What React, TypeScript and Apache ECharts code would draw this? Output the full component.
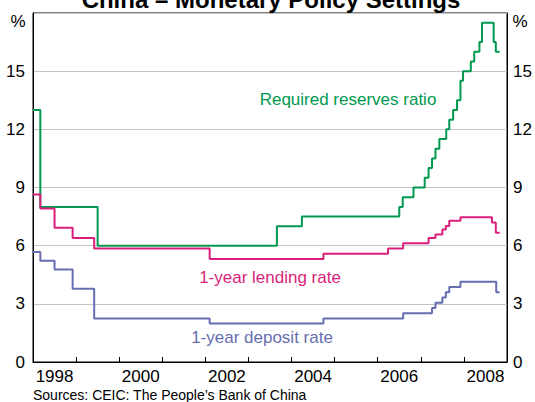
import React, { useEffect, useRef } from "react";
import * as echarts from "echarts";

const yearCats = ["1998", "1999", "2000", "2001", "2002", "2003", "2004", "2005", "2006", "2007", "2008"];

const rrrDates = [1998.0, 1998.17, 1999.5, 2003.66, 2004.24, 2006.5, 2006.58, 2006.83, 2007.09, 2007.18, 2007.26, 2007.34, 2007.43, 2007.59, 2007.66, 2007.75, 2007.84, 2007.92, 2007.98, 2008.16, 2008.24, 2008.36, 2008.42, 2008.69, 2008.74, 2008.83];
const rrrValues = [13, 8, 6, 7, 7.5, 8, 8.5, 9, 9.5, 10, 10.5, 11, 11.5, 12, 12.5, 13, 13.5, 14.5, 15, 15.5, 16, 16.5, 17.5, 16.5, 16, 16];

const lendDates = [1998.0, 1998.17, 1998.5, 1998.92, 1999.42, 2002.1, 2004.74, 2006.24, 2006.59, 2007.18, 2007.34, 2007.5, 2007.58, 2007.66, 2007.92, 2008.65, 2008.74, 2008.83];
const lendValues = [8.64, 7.92, 6.93, 6.39, 5.85, 5.31, 5.58, 5.85, 6.12, 6.39, 6.57, 6.84, 7.02, 7.29, 7.47, 7.2, 6.66, 6.66];

const depDates = [1998.0, 1998.17, 1998.5, 1998.92, 1999.42, 2002.1, 2004.74, 2006.59, 2007.26, 2007.34, 2007.5, 2007.58, 2007.66, 2007.92, 2008.75, 2008.83];
const depValues = [5.67, 5.22, 4.77, 3.78, 2.25, 1.98, 2.25, 2.52, 2.79, 3.06, 3.33, 3.6, 3.87, 4.14, 3.6, 3.6];

const GREEN = "#00994f";
const PINK = "#d91f7b";
const BLUE = "#666eb0";
const FONT = "'Liberation Sans', Arial, sans-serif";

function pairs(d: number[], v: number[]) {
  return d.map((x, i) => [x, v[i]]);
}

export default function App() {
  const ref = useRef<HTMLDivElement>(null);
  useEffect(() => {
    if (!ref.current) return;
    const chart = echarts.init(ref.current, undefined, { renderer: "svg" });
    const lineSeries = (name: string, data: number[][], color: string) => ({
      name,
      type: "line",
      step: "end",
      xAxisIndex: 0,
      yAxisIndex: 0,
      showSymbol: false,
      symbol: "none",
      data,
      lineStyle: { color, width: 2 },
      z: 5,
    });
    chart.setOption({
      animation: false,
      grid: { left: 33, right: 28, top: 13, bottom: 40, show: true, borderColor: "#000", borderWidth: 1, backgroundColor: "transparent" },
      xAxis: [
        {
          type: "value",
          min: 1998,
          max: 2009,
          interval: 1,
          position: "bottom",
          axisLine: { show: true, lineStyle: { color: "#000", width: 1 } },
          axisTick: { show: true, inside: true, length: 5, lineStyle: { color: "#000" } },
          axisLabel: { show: false },
          splitLine: { show: false },
        },
        {
          type: "category",
          data: yearCats,
          boundaryGap: true,
          position: "bottom",
          axisLine: { show: false },
          axisTick: { show: false },
          axisLabel: { interval: 1, fontSize: 17, lineHeight: 17, color: "#000", margin: 6, fontFamily: FONT },
          splitLine: { show: false },
        },
      ],
      yAxis: [
        {
          type: "value",
          min: 0,
          max: 18,
          interval: 3,
          position: "left",
          axisLine: { show: true, lineStyle: { color: "#000" } },
          axisTick: { show: false },
          axisLabel: { fontSize: 17, color: "#000", margin: 8, fontFamily: FONT, formatter: (v: number) => (v === 18 ? "" : String(v)) },
          splitLine: { show: true, lineStyle: { color: "#c4c4c4", width: 1 } },
        },
        {
          type: "value",
          min: 0,
          max: 18,
          interval: 3,
          position: "right",
          axisLine: { show: true, lineStyle: { color: "#000" } },
          axisTick: { show: false },
          axisLabel: { fontSize: 17, color: "#000", margin: 6, fontFamily: FONT, formatter: (v: number) => (v === 18 ? "" : String(v)) },
          splitLine: { show: false },
        },
      ],
      series: [
        lineSeries("Required reserves ratio", pairs(rrrDates, rrrValues), GREEN),
        lineSeries("1-year lending rate", pairs(lendDates, lendValues), PINK),
        lineSeries("1-year deposit rate", pairs(depDates, depValues), BLUE),
      ],
      graphic: [
        { type: "text", x: 271, y: 11, style: { text: "China – Monetary Policy Settings", font: `bold 24px ${FONT}`, fill: "#000", textAlign: "center", textVerticalAlign: "bottom" } },
        { type: "text", x: 18, y: 21, style: { text: "%", font: `17px ${FONT}`, fill: "#000", textAlign: "center", textVerticalAlign: "middle" } },
        { type: "text", x: 520, y: 21, style: { text: "%", font: `17px ${FONT}`, fill: "#000", textAlign: "center", textVerticalAlign: "middle" } },
        { type: "text", x: 348, y: 99, style: { text: "Required reserves ratio", font: `17px ${FONT}`, fill: GREEN, textAlign: "center", textVerticalAlign: "middle" } },
        { type: "text", x: 270, y: 277, style: { text: "1-year lending rate", font: `17px ${FONT}`, fill: PINK, textAlign: "center", textVerticalAlign: "middle" } },
        { type: "text", x: 262, y: 337, style: { text: "1-year deposit rate", font: `17px ${FONT}`, fill: BLUE, textAlign: "center", textVerticalAlign: "middle" } },
        { type: "text", x: 33, y: 395, style: { text: "Sources: CEIC: The People’s Bank of China", font: `14px ${FONT}`, fill: "#000", textAlign: "left", textVerticalAlign: "middle" } },
      ],
    });
    return () => chart.dispose();
  }, []);
  return <div ref={ref} style={{ position: "fixed", left: 0, top: 0, width: 535, height: 402, background: "#fff" }} />;
}
